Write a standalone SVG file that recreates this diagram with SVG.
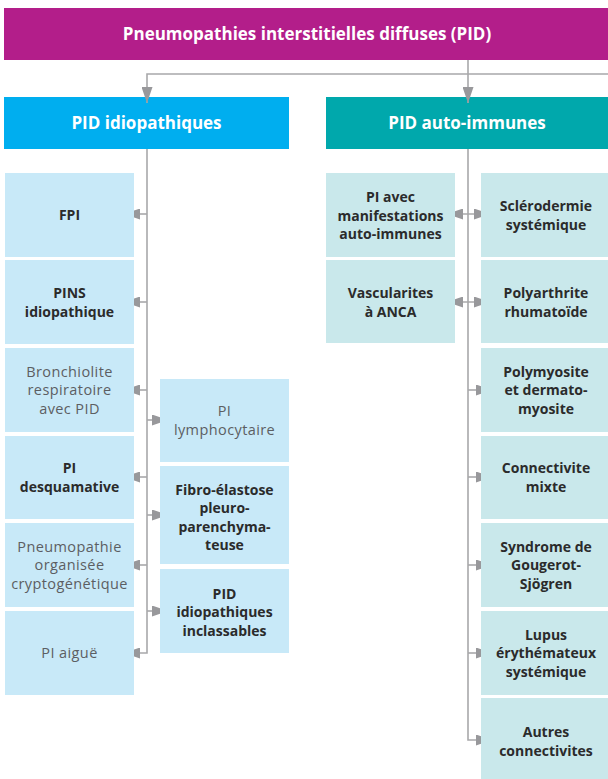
<svg xmlns="http://www.w3.org/2000/svg" width="608" height="779" viewBox="0 0 608 779">
<defs>
<style>
text{font-variant-ligatures:none}
.hd{font-family:"Open Sans","Noto Sans",sans-serif;font-weight:700;fill:#fff;text-anchor:middle}
.b{font-family:"Open Sans","Noto Sans",sans-serif;font-weight:700;font-size:14px;fill:#2b2b2b;text-anchor:middle}
.r{font-family:"Open Sans","Noto Sans",sans-serif;font-weight:400;font-size:14.5px;letter-spacing:0.4px;fill:#5c5e62;text-anchor:middle}
.lb{fill:#c8e9f8}
.lt{fill:#c9e8eb}
.c{fill:none;stroke:#a8a8aa;stroke-width:1.6}
.a{marker-end:url(#ar)}
.d{marker-start:url(#ar);marker-end:url(#ar)}
</style>
<marker id="ar" markerUnits="userSpaceOnUse" markerWidth="16" markerHeight="11" refX="16" refY="5.5" orient="auto-start-reverse">
<path d="M0,0 L16,5.5 L0,11 z" fill="#98989b"/>
</marker>
</defs>

<g id="header">
<rect x="4" y="8" width="610" height="52" fill="#b31e8a"/>
<text class="hd" x="307" y="40" font-size="17">Pneumopathies interstitielles diffuses (PID)</text>
</g>
<g id="pid-idiopathiques">
<rect x="4" y="97" width="285" height="52" fill="#00aeef"/>
<text class="hd" x="146.5" y="129" font-size="17">PID idiopathiques</text>
</g>
<g id="pid-auto-immunes">
<rect x="326" y="97" width="290" height="52" fill="#00a8ac"/>
<text class="hd" x="467" y="129" font-size="17">PID auto-immunes</text>
</g>

<g id="connectors">
<path class="c a" d="M468,60 V103"/>
<path class="c a" d="M610,74 H147 V103"/>
<path class="c a" d="M147,149 V653 H124"/>
<path class="c a" d="M147,214 H124"/>
<path class="c a" d="M147,302 H124"/>
<path class="c a" d="M147,390 H124"/>
<path class="c a" d="M147,477 H124"/>
<path class="c a" d="M147,565 H124"/>
<path class="c a" d="M147,420 H168"/>
<path class="c a" d="M147,515 H168"/>
<path class="c a" d="M147,611 H168"/>
<path class="c a" d="M468,149 V740 H492"/>
<path class="c d" d="M447,214 H490"/>
<path class="c d" d="M447,302 H490"/>
<path class="c a" d="M468,390 H492"/>
<path class="c a" d="M468,477 H492"/>
<path class="c a" d="M468,565 H492"/>
<path class="c a" d="M468,653 H492"/>
</g>

<g id="fpi">
<rect class="lb" x="5" y="173" width="129" height="84"/>
<text class="b" x="69.5" y="220">FPI</text>
</g>
<g id="pins">
<rect class="lb" x="5" y="260" width="129" height="84"/>
<text class="b" x="69.5" y="298">PINS</text>
<text class="b" x="69.5" y="317">idiopathique</text>
</g>
<g id="bronchiolite">
<rect class="lb" x="5" y="348" width="129" height="84"/>
<text class="r" x="69.5" y="376.5">Bronchiolite</text>
<text class="r" x="69.5" y="395">respiratoire</text>
<text class="r" x="69.5" y="413.5">avec PID</text>
</g>
<g id="desquamative">
<rect class="lb" x="5" y="436" width="129" height="83"/>
<text class="b" x="69.5" y="472.5">PI</text>
<text class="b" x="69.5" y="491.5">desquamative</text>
</g>
<g id="poc">
<rect class="lb" x="5" y="523" width="129" height="84"/>
<text class="r" x="69.5" y="551.5">Pneumopathie</text>
<text class="r" x="69.5" y="570">organisée</text>
<text class="r" x="69.5" y="588.5">cryptogénétique</text>
</g>
<g id="pi-aigue">
<rect class="lb" x="5" y="611" width="129" height="84"/>
<text class="r" x="69.5" y="658">PI aiguë</text>
</g>
<g id="lymphocytaire">
<rect class="lb" x="160" y="379" width="129" height="83"/>
<text class="r" x="224.5" y="416">PI</text>
<text class="r" x="224.5" y="435">lymphocytaire</text>
</g>
<g id="fibro">
<rect class="lb" x="160" y="466" width="129" height="98"/>
<text class="b" x="224.5" y="494.5">Fibro-élastose</text>
<text class="b" x="224.5" y="513">pleuro-</text>
<text class="b" x="224.5" y="531.5">parenchyma-</text>
<text class="b" x="224.5" y="550">teuse</text>
</g>
<g id="inclassables">
<rect class="lb" x="160" y="569" width="129" height="84"/>
<text class="b" x="224.5" y="598.5">PID</text>
<text class="b" x="224.5" y="617">idiopathiques</text>
<text class="b" x="224.5" y="635.5">inclassables</text>
</g>

<g id="manifestations">
<rect class="lt" x="326" y="173" width="129" height="84"/>
<text class="b" x="390.5" y="202">PI avec</text>
<text class="b" x="390.5" y="220.5">manifestations</text>
<text class="b" x="390.5" y="239">auto-immunes</text>
</g>
<g id="vascularites">
<rect class="lt" x="326" y="260" width="129" height="83"/>
<text class="b" x="390.5" y="298">Vascularites</text>
<text class="b" x="390.5" y="317">à ANCA</text>
</g>
<g id="sclerodermie">
<rect class="lt" x="481" y="173" width="135" height="84"/>
<text class="b" x="546" y="211">Sclérodermie</text>
<text class="b" x="546" y="229.5">systémique</text>
</g>
<g id="polyarthrite">
<rect class="lt" x="481" y="260" width="135" height="83"/>
<text class="b" x="546" y="298">Polyarthrite</text>
<text class="b" x="546" y="317">rhumatoïde</text>
</g>
<g id="polymyosite">
<rect class="lt" x="481" y="348" width="135" height="84"/>
<text class="b" x="546" y="376.5">Polymyosite</text>
<text class="b" x="546" y="395">et dermato-</text>
<text class="b" x="546" y="413.5">myosite</text>
</g>
<g id="connectivite-mixte">
<rect class="lt" x="481" y="436" width="135" height="83"/>
<text class="b" x="546" y="472.5">Connectivite</text>
<text class="b" x="546" y="491.5">mixte</text>
</g>
<g id="sjogren">
<rect class="lt" x="481" y="523" width="135" height="84"/>
<text class="b" x="546" y="551.5">Syndrome de</text>
<text class="b" x="546" y="570">Gougerot-</text>
<text class="b" x="546" y="588.5">Sjögren</text>
</g>
<g id="lupus">
<rect class="lt" x="481" y="611" width="135" height="84"/>
<text class="b" x="546" y="639.5">Lupus</text>
<text class="b" x="546" y="658">érythémateux</text>
<text class="b" x="546" y="676.5">systémique</text>
</g>
<g id="autres">
<rect class="lt" x="481" y="698" width="135" height="81"/>
<text class="b" x="546" y="736.5">Autres</text>
<text class="b" x="546" y="755.5">connectivites</text>
</g>
</svg>
